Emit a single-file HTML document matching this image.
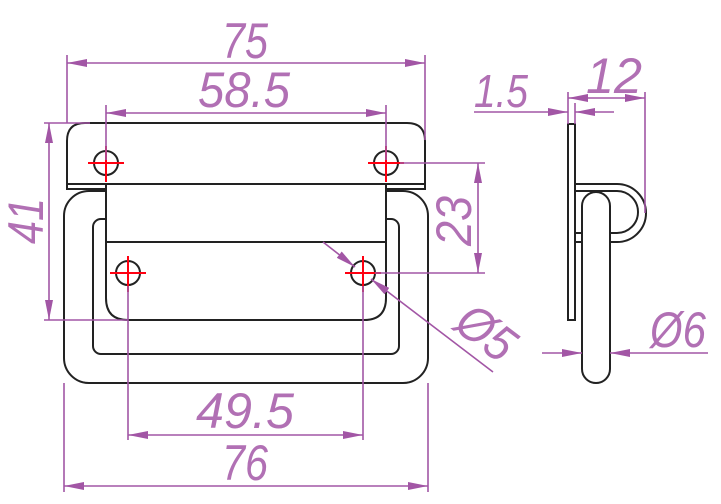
<!DOCTYPE html>
<html><head><meta charset="utf-8"><style>
html,body{margin:0;padding:0;background:#fff;}
svg{display:block;}
text{font-family:"Liberation Sans",sans-serif;font-style:italic;fill:#b170b4;font-size:50px;}
</style></head><body>
<svg width="721" height="504" viewBox="0 0 721 504" xmlns="http://www.w3.org/2000/svg">
<defs>
<marker id="a" viewBox="0 0 20 8" refX="20" refY="4" markerWidth="20" markerHeight="8" markerUnits="userSpaceOnUse" orient="auto-start-reverse"><path d="M0,0 L20,4 L0,8 Z" fill="#a256a5"/></marker>
</defs>
<g fill="none" stroke="#222" stroke-width="2">
<rect x="64" y="191" width="364" height="192" rx="25"/>
<rect x="93" y="219" width="306" height="135" rx="8"/>
<path d="M67,189 V141 Q67,123 85,123 H407 Q425,123 425,141 V189 Z" fill="#fff"/>
<line x1="67" y1="184" x2="425" y2="184"/>
<path d="M106,184 V298 Q106,320 128,320 H364 Q386,320 386,298 V184 Z" fill="#fff"/>
<line x1="106" y1="242" x2="386" y2="242"/>
<circle cx="106" cy="163" r="12"/><circle cx="386" cy="163" r="12"/>
<circle cx="128" cy="273" r="12"/><circle cx="363" cy="273" r="12"/>
</g>
<g stroke="#f01" stroke-width="2">
<path d="M88,163h36M106,146v36M368,163h36M386,146v36M110,273h36M128,256v36M345,273h36M363,256v36"/>
</g>
<g fill="none" stroke="#222" stroke-width="2">
<rect x="568" y="124" width="7" height="196"/>
<path d="M575,184 H617 A29,29 0 0 1 617,242 H575"/>
<path d="M575,191 H617 A21,21 0 0 1 617,233 H575"/>
<path d="M582,206 A14,14 0 0 1 610,206 V369 A14,14 0 0 1 582,369 Z" fill="#fff"/>
</g>
<g stroke="#a256a5" stroke-width="1.6" fill="none">
<line x1="67" y1="55" x2="67" y2="123"/><line x1="425" y1="55" x2="425" y2="140"/>
<line x1="67" y1="63" x2="425" y2="63" marker-start="url(#a)" marker-end="url(#a)"/>
<line x1="106" y1="105" x2="106" y2="160"/><line x1="386" y1="105" x2="386" y2="160"/>
<line x1="106" y1="113" x2="386" y2="113" marker-start="url(#a)" marker-end="url(#a)"/>
<line x1="44" y1="123" x2="90" y2="123"/><line x1="44" y1="320" x2="128" y2="320"/>
<line x1="49" y1="123" x2="49" y2="320" marker-start="url(#a)" marker-end="url(#a)"/>
<line x1="400" y1="163" x2="485" y2="163"/><line x1="375" y1="273" x2="485" y2="273"/>
<line x1="478" y1="163" x2="478" y2="273" marker-start="url(#a)" marker-end="url(#a)"/>
<line x1="128" y1="286" x2="128" y2="440"/><line x1="363" y1="286" x2="363" y2="440"/>
<line x1="128" y1="435" x2="363" y2="435" marker-start="url(#a)" marker-end="url(#a)"/>
<line x1="64" y1="383" x2="64" y2="492"/><line x1="428" y1="383" x2="428" y2="492"/>
<line x1="64" y1="486" x2="428" y2="486" marker-start="url(#a)" marker-end="url(#a)"/>
<line x1="323" y1="242" x2="355" y2="267" marker-end="url(#a)"/>
<line x1="493" y1="372" x2="371" y2="279" marker-end="url(#a)"/>
<line x1="568" y1="92" x2="568" y2="124"/><line x1="575" y1="103" x2="575" y2="124"/>
<line x1="645" y1="92" x2="645" y2="213"/>
<line x1="474" y1="112" x2="568" y2="112" marker-end="url(#a)"/>
<line x1="614" y1="112" x2="575" y2="112" marker-end="url(#a)"/>
<line x1="568" y1="98" x2="645" y2="98" marker-start="url(#a)" marker-end="url(#a)"/>
<line x1="542" y1="353" x2="582" y2="353" marker-end="url(#a)"/>
<line x1="708" y1="353" x2="610" y2="353" marker-end="url(#a)"/>
</g>
<text x="222" y="58" textLength="46" lengthAdjust="spacingAndGlyphs">75</text>
<text x="198" y="107" textLength="92" lengthAdjust="spacingAndGlyphs">58.5</text>
<text x="196" y="428" textLength="98" lengthAdjust="spacingAndGlyphs">49.5</text>
<text x="222" y="480" textLength="46" lengthAdjust="spacingAndGlyphs">76</text>
<text transform="translate(43,244) rotate(-90)" textLength="46" lengthAdjust="spacingAndGlyphs">41</text>
<text transform="translate(471,246) rotate(-90)" textLength="50" lengthAdjust="spacingAndGlyphs">23</text>
<text transform="translate(452,328) rotate(37)" textLength="60" lengthAdjust="spacingAndGlyphs">Ø5</text>
<text x="474" y="107" style="font-size:46px" textLength="54" lengthAdjust="spacingAndGlyphs">1.5</text>
<text x="586" y="93" textLength="56" lengthAdjust="spacingAndGlyphs">12</text>
<text x="650" y="347" textLength="56" lengthAdjust="spacingAndGlyphs">Ø6</text>
</svg>
</body></html>
